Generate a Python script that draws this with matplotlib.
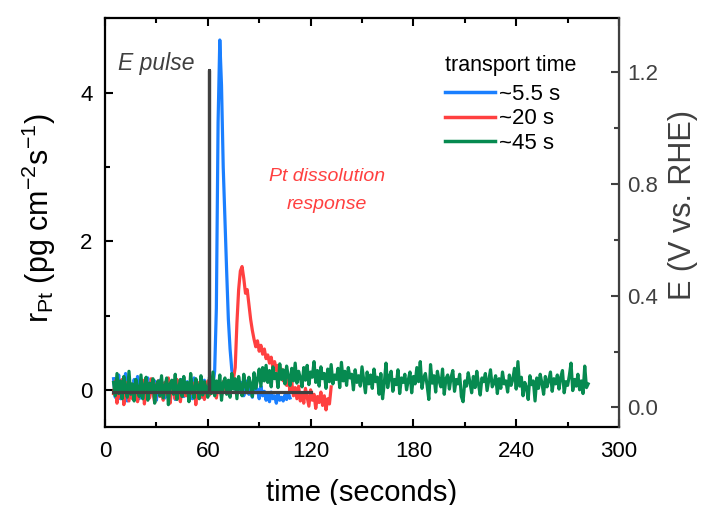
import numpy as np
import matplotlib
matplotlib.use('Agg')
import matplotlib.pyplot as plt
from matplotlib.ticker import MultipleLocator, FormatStrFormatter

plt.rcParams['font.family'] = ['Liberation Sans', 'DejaVu Sans']
plt.rcParams['mathtext.fontset'] = 'custom'
plt.rcParams['mathtext.rm'] = 'Liberation Sans'
plt.rcParams['mathtext.it'] = 'Liberation Sans:italic'
plt.rcParams['mathtext.default'] = 'regular'

# sampling: 1 s steps
blue_t0 = 5
blue_r = [0.15, -0.10, 0.05, 0.20, -0.12, 0.08, -0.05, 0.22, -0.15, 0.10,
          0.02, -0.08, 0.14, -0.03, 0.18, -0.12, 0.06, 0.11, -0.07, 0.03,
          0.16, -0.10, 0.08, -0.02, 0.12, -0.14, 0.05, 0.13, -0.06, 0.09,
          -0.11, 0.15, 0.01, -0.08, 0.10, 0.04, -0.13, 0.12, -0.02, 0.07,
          0.14, -0.09, 0.03, 0.11, -0.05, 0.08, -0.12, 0.16, 0.00, -0.07,
          0.09, 0.02, -0.10, 0.13, -0.04, 0.06, 0.11, -0.03, 0.05, 0.25,
          1.10, 3.60, 4.71, 4.10, 3.00, 2.30, 1.60, 0.95, 0.55, 0.27,
          0.12, 0.02, -0.05, 0.08, -0.02, 0.10, -0.08, 0.04, 0.12, -0.06,
          0.03, -0.10, 0.07, -0.04, 0.01, -0.12, 0.05, -0.08, -0.02, -0.14,
          -0.06, -0.16, -0.03, -0.12, -0.08, -0.18, -0.05, -0.14, -0.10, -0.15,
          -0.07, -0.13, -0.04, -0.11]

red_t0 = 5
red_r = [-0.05, 0.12, -0.18, 0.06, -0.10, 0.14, -0.20, 0.03, 0.10, -0.15,
         0.08, -0.12, 0.02, 0.11, -0.16, 0.05, -0.06, 0.13, -0.19, 0.04,
         0.09, -0.11, 0.15, -0.04, -0.17, 0.07, 0.12, -0.09, 0.01, -0.14,
         0.10, -0.06, 0.16, -0.18, 0.03, 0.08, -0.12, 0.14, -0.03, -0.16,
         0.06, 0.11, -0.08, 0.02, -0.15, 0.13, -0.05, 0.09, -0.20, 0.04,
         0.10, -0.10, 0.07, -0.13, 0.01, 0.12, -0.07, 0.05, -0.04, 0.09,
         -0.11, 0.06, 0.02, -0.08, 0.11, -0.03, 0.07, 0.00, 0.05, 0.08,
         0.15, 0.30, 0.90, 1.35, 1.60, 1.66, 1.50, 1.30, 1.35, 1.15,
         0.95, 0.80, 0.68, 0.58, 0.66, 0.52, 0.60, 0.48, 0.55, 0.42,
         0.47, 0.36, 0.44, 0.30, 0.38, 0.26, 0.33, 0.20, 0.28, 0.12,
         0.22, 0.06, 0.15, -0.02, 0.10, -0.08, 0.03, -0.12, 0.05, -0.15,
         -0.04, -0.18, 0.02, -0.10, -0.22, 0.00, -0.14, -0.06, -0.25, -0.09,
         -0.17, -0.03, -0.21, -0.08, -0.27, -0.12, -0.19, 0.04]

green_t0 = 5
green_r = [0.10, -0.08, 0.22, -0.05, 0.12, -0.12, 0.18, 0.02, -0.10, 0.25,
           -0.06, 0.08, -0.15, 0.14, 0.01, -0.09, 0.20, -0.12, 0.05, 0.17,
           -0.14, 0.09, -0.03, 0.15, -0.18, 0.06, 0.12, -0.08, 0.19, -0.11,
           0.04, 0.16, -0.20, 0.08, 0.13, -0.06, 0.21, -0.13, 0.03, 0.14,
           -0.09, 0.18, -0.04, 0.10, -0.16, 0.22, 0.00, -0.11, 0.15, 0.05,
           -0.12, 0.19, -0.07, 0.11, 0.02, -0.10, 0.17, -0.05, 0.24, -0.08,
           0.12, -0.03, 0.20, -0.14, 0.09, 0.16, -0.06, 0.13, -0.10, 0.22,
           0.01, 0.15, -0.12, 0.18, 0.04, -0.08, 0.21, 0.06, -0.04, 0.17,
           0.08, -0.09, 0.23, 0.02, 0.14, 0.28, 0.05, 0.30, 0.12, 0.33,
           0.10, 0.26, 0.04, 0.31, 0.15, 0.22, 0.03, 0.35, 0.14, 0.27,
           0.08, 0.32, 0.18, 0.06, 0.29, 0.12, 0.36, 0.09, 0.25, 0.16,
           0.04, 0.30, 0.13, 0.33, 0.07, 0.24, 0.17, 0.38, 0.10, 0.26,
           0.05, 0.31, 0.15, 0.22, 0.02, 0.28, 0.11, 0.34, 0.08, 0.20,
           0.14, 0.29, 0.03, 0.37, 0.12, 0.25, 0.06, 0.30, 0.16, 0.21,
           0.00, 0.27, 0.10, 0.19, 0.05, 0.31, 0.13, -0.04, 0.24, 0.08,
           0.20, 0.02, 0.28, 0.11, 0.17, -0.06, 0.22, -0.12, 0.09, 0.36,
           0.03, 0.18, 0.25, -0.02, 0.14, 0.07, 0.27, -0.05, 0.16, 0.10,
           0.21, 0.00, 0.13, 0.24, -0.04, 0.18, 0.08, 0.30, 0.11, 0.38,
           0.02, 0.16, 0.22, 0.06, -0.13, 0.34, 0.09, 0.19, -0.03, 0.25,
           0.12, 0.04, 0.28, -0.06, 0.15, 0.20, 0.01, 0.17, 0.26, -0.02,
           0.14, 0.08, 0.21, -0.09, -0.16, 0.12, 0.05, 0.23, 0.10, -0.04,
           0.18, 0.03, 0.25, 0.07, -0.07, 0.16, 0.11, 0.22, -0.01, 0.13,
           0.27, 0.04, 0.09, 0.19, -0.05, 0.15, 0.02, 0.24, 0.08, 0.12,
           -0.03, 0.20, 0.06, 0.14, 0.29, 0.01, 0.38, 0.05, 0.17, -0.08,
           0.10, 0.03, -0.13, 0.19, 0.07, 0.12, -0.15, 0.16, 0.02, 0.21,
           0.09, -0.06, 0.18, 0.04, 0.13, 0.24, -0.02, 0.15, 0.08, 0.20,
           0.01, 0.17, 0.26, -0.04, 0.11, 0.06, 0.19, 0.36, -0.01, 0.14,
           0.05, 0.21, 0.00, 0.12, -0.05, 0.32, 0.03, 0.08]

# potential pulse (right axis)
pulse_t = [4.5, 60.5, 60.5, 60.5, 120]
pulse_E = [0.055, 0.055, 1.21, 0.055, 0.055]

labels = ['~5.5 s', '~20 s', '~45 s']
colors = ['#1a7fff', '#ff4040', '#068a50']

blue_t = blue_t0 + np.arange(len(blue_r))
red_t = red_t0 + np.arange(len(red_r))
green_t = green_t0 + np.arange(len(green_r))

fig = plt.figure(figsize=(7.08, 5.05), dpi=100)
ax = fig.add_axes([0.1483, 0.1545, 0.7260, 0.8089])
ax2 = ax.twinx()

lw = 2.3
l1, = ax.plot(blue_t, blue_r, color=colors[0], lw=lw)
l2, = ax.plot(red_t, red_r, color=colors[1], lw=lw)
l3, = ax.plot(green_t, green_r, color=colors[2], lw=lw)
ax2.plot(pulse_t, pulse_E, color='#404040', lw=2.3)

ax.set_xlim(0, 300)
ax.set_ylim(-0.5, 5.0)
ax2.set_ylim(-0.07, 1.393)

ax.xaxis.set_major_locator(MultipleLocator(60))
ax.xaxis.set_minor_locator(MultipleLocator(30))
ax.yaxis.set_major_locator(MultipleLocator(2))
ax.yaxis.set_minor_locator(MultipleLocator(1))
ax2.yaxis.set_major_locator(MultipleLocator(0.4))
ax2.yaxis.set_minor_locator(MultipleLocator(0.2))

ax.tick_params(axis='x', which='both', direction='in', top=True, labelsize=16, pad=10)
ax.tick_params(axis='y', which='both', direction='in', right=False, labelsize=16, pad=9)
ax.tick_params(which='major', length=6, width=1.5)
ax.tick_params(which='minor', length=3.5, width=1.5)
ax2.tick_params(axis='y', which='both', direction='in', labelsize=16, colors='#404040', pad=6)
ax2.tick_params(which='major', length=6, width=1.5)
ax2.tick_params(which='minor', length=3.5, width=1.5)
ax2.yaxis.set_major_formatter(FormatStrFormatter('%.1f'))

for s in ['left', 'bottom', 'top']:
    ax.spines[s].set_linewidth(1.6)
for s in ax2.spines:
    ax2.spines[s].set_visible(False)
ax2.spines['right'].set_visible(True)
ax2.spines['right'].set_color('#404040')
ax2.spines['right'].set_linewidth(1.6)

ax.set_xlabel('time (seconds)', fontsize=21, labelpad=12)
ax.set_ylabel(r'r$_{Pt}$ (pg cm$^{-2}$s$^{-1}$)', fontsize=22)
ax.yaxis.set_label_coords(-0.091, 0.512)
ax2.set_ylabel('E (V vs. RHE)', fontsize=22, color='#404040')
ax2.yaxis.set_label_coords(1.095, 0.543)

ax2.text(7.6, 1.233, 'E pulse', fontsize=16.5, style='italic', color='#404040', va='center')
ax.text(129.6, 2.68, 'Pt dissolution\nresponse', fontsize=14, style='italic',
        color='#ff4040', ha='center', va='center', linespacing=1.85)

ax2.text(0.6615, 0.8837, 'transport time', transform=ax2.transAxes, fontsize=15.5,
         va='center', ha='left')
leg = ax2.legend([l1, l2, l3], labels, loc='upper left',
                 bbox_to_anchor=(0.6615, 0.8397), frameon=False, fontsize=16,
                 handlelength=2.25, handletextpad=0.2, borderpad=0,
                 borderaxespad=0, labelspacing=0.15)
for ln in leg.get_lines():
    ln.set_linewidth(2.5)

fig.savefig('out.png', dpi=100)
